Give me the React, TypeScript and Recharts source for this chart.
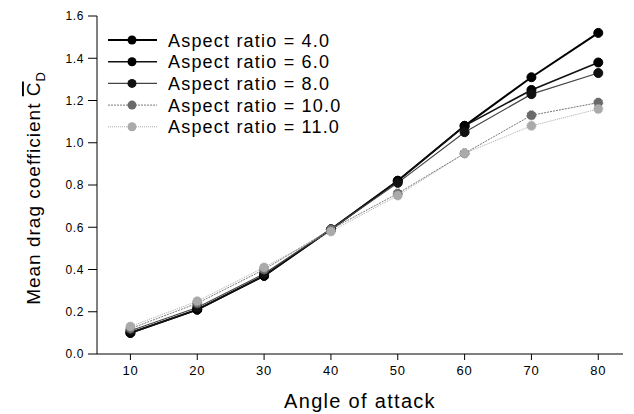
import { LineChart, Line, XAxis, YAxis } from "recharts"

const angles = [10, 20, 30, 40, 50, 60, 70, 80]
const ar4 = [0.10, 0.21, 0.37, 0.59, 0.82, 1.08, 1.31, 1.52]
const ar6 = [0.10, 0.21, 0.37, 0.59, 0.82, 1.08, 1.25, 1.38]
const ar8 = [0.11, 0.22, 0.38, 0.59, 0.81, 1.05, 1.23, 1.33]
const ar10 = [0.12, 0.24, 0.40, 0.59, 0.76, 0.95, 1.13, 1.19]
const ar11 = [0.13, 0.25, 0.41, 0.58, 0.75, 0.95, 1.08, 1.16]
const xTicks = [10, 20, 30, 40, 50, 60, 70, 80]
const yTicks = [0, 0.2, 0.4, 0.6, 0.8, 1.0, 1.2, 1.4, 1.6]

const data = angles.map((a, i) => ({
  angle: a,
  ar4: ar4[i],
  ar6: ar6[i],
  ar8: ar8[i],
  ar10: ar10[i],
  ar11: ar11[i],
}))

const series = [
  { key: "ar4", name: "Aspect ratio = 4.0", stroke: "#000", width: 2, dash: undefined, fill: "#000" },
  { key: "ar6", name: "Aspect ratio = 6.0", stroke: "#111", width: 1.6, dash: undefined, fill: "#000" },
  { key: "ar8", name: "Aspect ratio = 8.0", stroke: "#444", width: 1.2, dash: undefined, fill: "#111" },
  { key: "ar10", name: "Aspect ratio = 10.0", stroke: "#777", width: 1, dash: "2 1", fill: "#6a6a6a" },
  { key: "ar11", name: "Aspect ratio = 11.0", stroke: "#aaa", width: 1, dash: "1 1", fill: "#aaa" },
]

const font = "Arial, 'Liberation Sans', sans-serif"

// legend drawn as an overlay so it doesn't take room from the plot
const LegendBox = () => (
  <svg width={240} height={115} style={{ position: "absolute", left: 104, top: 29 }}>
    {series.map((s, i) => {
      const y = 11 + i * 21.7
      return (
        <g key={s.key}>
          <line x1={4} x2={53} y1={y} y2={y} stroke={s.stroke} strokeWidth={s.width} strokeDasharray={s.dash} />
          <circle cx={28} cy={y} r={4.5} fill={s.fill} />
          <text x={64} y={y + 6.5} fontSize={18} letterSpacing={1.2} fontFamily={font} fill="#000">{s.name}</text>
        </g>
      )
    })}
  </svg>
)

const YLabel = () => (
  <text transform="translate(40, 188) rotate(-90)" textAnchor="middle" fontSize={19} letterSpacing={1} fontFamily={font} fill="#000">
    Mean drag coefficient <tspan textDecoration="overline">C</tspan>
    <tspan fontSize={13} dy={5}>D</tspan>
  </text>
)

export default function App() {
  return (
    <div style={{ position: "absolute", left: 0, top: 0, background: "#fff" }}>
      <LineChart width={634} height={414} data={data} margin={{ top: 16, right: 11, left: 0, bottom: 0 }}>
        <XAxis
          dataKey="angle"
          type="number"
          domain={[5, 83.7]}
          ticks={xTicks}
          allowDataOverflow
          stroke="#000"
          tickSize={6}
          tickMargin={6}
          height={60}
          tick={{ fill: "#000", fontSize: 13, fontFamily: font, letterSpacing: 0.8 }}
          label={{ value: "Angle of attack", position: "insideBottom", offset: 6, fontSize: 20, letterSpacing: 1.3, fontFamily: font, fill: "#000" }}
        />
        <XAxis xAxisId="top" orientation="top" dataKey="angle" type="number" domain={[5, 83.7]} tick={false} tickLine={false} height={0} stroke="#000" />
        <YAxis
          domain={[0, 1.6]}
          ticks={yTicks}
          stroke="#000"
          width={97}
          tickSize={9}
          tickMargin={4}
          tickFormatter={(v: number) => v.toFixed(1)}
          tick={{ fill: "#000", fontSize: 12, fontFamily: font, letterSpacing: 0.6 }}
          label={<YLabel />}
        />
        <YAxis yAxisId="right" orientation="right" domain={[0, 1.6]} tick={false} tickLine={false} width={0} stroke="#000" />
        {series.map((s) => (
          <Line
            key={s.key}
            dataKey={s.key}
            name={s.name}
            stroke={s.stroke}
            strokeWidth={s.width}
            strokeDasharray={s.dash}
            dot={{ r: 4.5, fill: s.fill, stroke: s.fill, strokeWidth: 1 }}
            isAnimationActive={false}
          />
        ))}
      </LineChart>
      <LegendBox />
    </div>
  )
}
